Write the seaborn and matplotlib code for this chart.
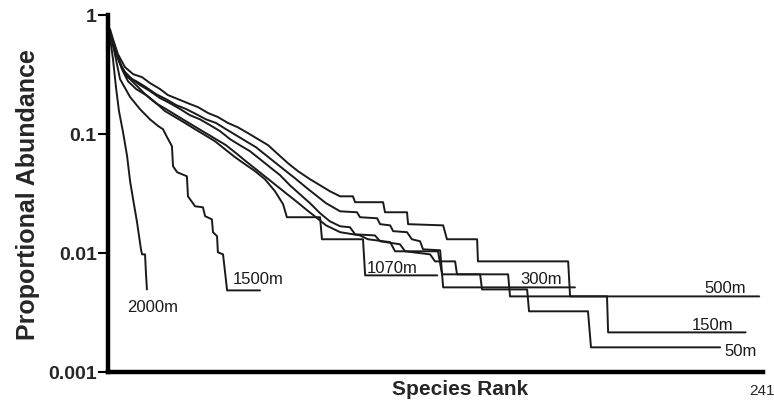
import matplotlib
matplotlib.use("Agg")
import matplotlib.pyplot as plt
import seaborn as sns
import pandas as pd

# Rank-abundance curves by elevation (rank, proportional abundance)
rank_2000 = [1.0, 2.1, 3.2, 4.3, 5.8, 7.3, 8.4, 9.5, 10.9, 12.4, 12.8, 13.9, 14.2, 14.6]
abund_2000 = [0.647, 0.423, 0.246, 0.155, 0.103, 0.0647, 0.0399, 0.0282, 0.0184,
              0.0107, 0.00971, 0.00971, 0.00700, 0.00493]

rank_1500 = [1.0, 2.8, 4.7, 8.4, 12.0, 15.7, 18.7, 20.5, 22.0, 23.8, 24.2, 25.7,
             29.3, 29.7, 32.3, 35.2, 36.0, 38.5, 38.9, 40.4, 40.7, 42.6, 44.1, 56.2]
abund_1500 = [0.713, 0.466, 0.287, 0.203, 0.161, 0.132, 0.116, 0.109, 0.0935, 0.0785,
              0.0533, 0.0475, 0.0439, 0.0298, 0.0246, 0.0241, 0.0203, 0.0191, 0.0149,
              0.0138, 0.0101, 0.00971, 0.00484, 0.00484]

rank_1070 = [1.0, 2.8, 4.7, 6.5, 10.2, 13.9, 17.6, 21.2, 24.9, 28.6, 32.3, 36.0, 39.6,
             43.3, 47.0, 50.7, 54.4, 58.0, 61.7, 64.7, 66.1, 78.3, 79.0, 94.1, 94.9, 121.4]
abund_1070 = [0.713, 0.513, 0.384, 0.316, 0.261, 0.215, 0.184, 0.155, 0.138, 0.123,
              0.109, 0.0971, 0.0865, 0.0741, 0.0635, 0.0554, 0.0484, 0.0415, 0.0329,
              0.0256, 0.0199, 0.0199, 0.0130, 0.0130, 0.00647, 0.00647]

rank_500 = [1.0, 2.1, 3.9, 6.5, 9.5, 12.8, 15.7, 19.4, 22.3, 26.0, 29.7, 33.4, 37.1,
            40.7, 44.4, 48.1, 51.8, 55.5, 59.2, 62.8, 66.5, 70.2, 74.6, 78.3, 81.9,
            85.7, 90.4, 91.2, 101.5, 102.2, 110.3, 110.7, 123.6, 125.0, 136.1, 136.4,
            169.6, 170.3, 239.9]
abund_500 = [0.755, 0.622, 0.466, 0.362, 0.316, 0.298, 0.266, 0.237, 0.211, 0.195,
             0.180, 0.167, 0.149, 0.138, 0.123, 0.113, 0.101, 0.0899, 0.0800, 0.0673,
             0.0565, 0.0484, 0.0415, 0.0369, 0.0329, 0.0298, 0.0298, 0.0266, 0.0266,
             0.0219, 0.0219, 0.0174, 0.0170, 0.0130, 0.0130, 0.00848, 0.00848,
             0.00431, 0.00431]

rank_300 = [1.0, 2.8, 5.0, 7.6, 10.6, 14.2, 17.9, 21.6, 25.3, 29.0, 32.7, 36.3, 40.0,
            43.7, 47.4, 51.0, 54.7, 58.4, 62.1, 65.8, 69.5, 73.1, 76.8, 80.5, 85.7,
            91.9, 93.0, 99.3, 100.4, 104.1, 105.2, 110.3, 112.1, 115.1, 116.2, 122.5,
            123.6, 172.1]
abund_300 = [0.713, 0.533, 0.376, 0.298, 0.276, 0.246, 0.215, 0.195, 0.174, 0.161,
             0.146, 0.132, 0.123, 0.109, 0.0971, 0.0865, 0.0770, 0.0660, 0.0565,
             0.0484, 0.0415, 0.0355, 0.0304, 0.0261, 0.0223, 0.0219, 0.0199, 0.0195,
             0.0174, 0.0170, 0.0152, 0.0149, 0.0130, 0.0125, 0.0107, 0.0105,
             0.00513, 0.00513]

rank_150 = [1.0, 2.5, 4.3, 6.2, 9.1, 12.0, 15.7, 19.4, 23.1, 26.8, 30.4, 34.1, 37.8,
            41.5, 45.2, 48.8, 52.5, 56.2, 59.9, 63.6, 67.2, 70.9, 74.6, 78.3, 81.9,
            85.7, 89.3, 91.2, 98.5, 100.4, 107.7, 109.6, 118.8, 120.6, 128.0, 128.7,
            147.5, 148.2, 183.9, 184.3, 234.9]
abund_150 = [0.686, 0.513, 0.407, 0.335, 0.287, 0.256, 0.228, 0.199, 0.180, 0.161,
             0.143, 0.132, 0.118, 0.105, 0.0899, 0.0800, 0.0713, 0.0611, 0.0523,
             0.0448, 0.0369, 0.0310, 0.0261, 0.0215, 0.0184, 0.0167, 0.0164, 0.0143,
             0.0140, 0.0125, 0.0118, 0.0103, 0.00971, 0.00848, 0.00848, 0.00660,
             0.00660, 0.00431, 0.00431, 0.00215, 0.00215]

rank_50 = [1.0, 3.2, 5.4, 7.6, 10.6, 14.2, 17.9, 21.6, 25.3, 29.0, 32.7, 36.3, 40.0,
           43.7, 47.4, 51.0, 54.7, 58.4, 62.1, 65.8, 69.5, 73.1, 76.8, 80.5, 85.7,
           93.0, 95.9, 104.1, 105.9, 121.7, 123.2, 137.2, 137.9, 154.5, 155.2, 176.9,
           178.0, 225.5]
abund_50 = [0.727, 0.493, 0.348, 0.276, 0.237, 0.211, 0.180, 0.161, 0.143, 0.127,
            0.113, 0.101, 0.0899, 0.0800, 0.0686, 0.0587, 0.0503, 0.0431, 0.0369,
            0.0316, 0.0271, 0.0232, 0.0199, 0.0170, 0.0149, 0.0140, 0.0130, 0.0123,
            0.0103, 0.0103, 0.00660, 0.00660, 0.00493, 0.00493, 0.00323, 0.00323,
            0.00161, 0.00161]

sites = ["2000m", "1500m", "1070m", "500m", "300m", "150m", "50m"]
ranks = [rank_2000, rank_1500, rank_1070, rank_500, rank_300, rank_150, rank_50]
abunds = [abund_2000, abund_1500, abund_1070, abund_500, abund_300, abund_150, abund_50]

# Curve label anchor points (rank, abundance)
label_rank = [16.8, 55.5, 104.8, 227.3, 159.6, 222.9, 233.2]
label_abund = [0.00355, 0.00605, 0.00755, 0.00513, 0.00605, 0.00251, 0.00152]

y_ticks = [0.001, 0.01, 0.1, 1]
y_tick_labels = ["0.001", "0.01", "0.1", "1"]
max_rank = 241

frames = []
for site, r, a in zip(sites, ranks, abunds):
    frames.append(pd.DataFrame({"site": site, "rank": r, "abundance": a,
                                "order": range(len(r))}))
df = pd.concat(frames, ignore_index=True)

sns.set_theme(style="ticks")
plt.rcParams["font.family"] = ["Liberation Sans", "DejaVu Sans"]

fig = plt.figure(figsize=(7.74, 4.06), dpi=100)
ax = fig.add_axes([0.1395, 0.0813, 0.8463, 0.8805])

sns.lineplot(data=df, x="rank", y="abundance", units="site", estimator=None,
             sort=False, color="#1a1a1a", linewidth=1.4, ax=ax, legend=False)

ax.set_yscale("log")
ax.set_ylim(0.001, 1)
ax.set_xlim(0.26, 241.3)

for spine in ["top", "right"]:
    ax.spines[spine].set_visible(False)
for spine in ["left", "bottom"]:
    ax.spines[spine].set_linewidth(3.2)
    ax.spines[spine].set_color("black")

ax.set_yticks(y_ticks)
ax.set_yticklabels(y_tick_labels, fontsize=14, fontweight="bold")
ax.yaxis.set_minor_locator(matplotlib.ticker.NullLocator())
ax.tick_params(axis="y", length=7, width=1.5, color="black", pad=1)

ax.set_xticks([max_rank])
ax.set_xticklabels([str(max_rank)], fontsize=11)
ax.tick_params(axis="x", length=0, pad=8)

ax.set_ylabel("Proportional Abundance", fontsize=18, fontweight="bold", labelpad=6)
ax.set_xlabel("Species Rank", fontsize=15, fontweight="bold")
ax.xaxis.set_label_coords(0.537, -0.02)

for site, lr, la in zip(sites, label_rank, label_abund):
    ax.text(lr, la, site, fontsize=12, ha="center", va="center", color="#1a1a1a")

fig.savefig("out.png", dpi=100)
